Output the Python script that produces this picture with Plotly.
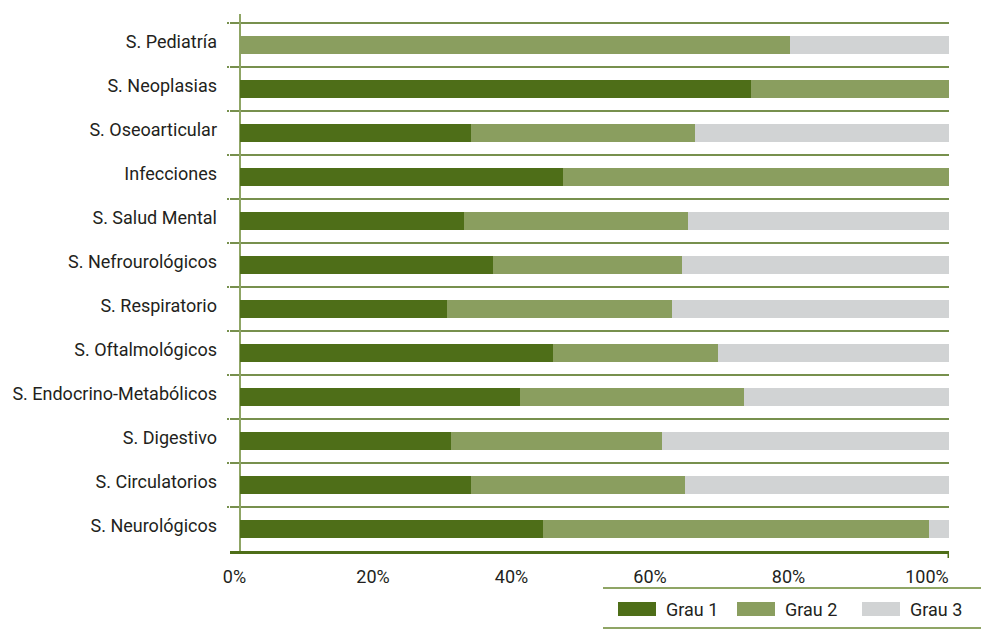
import plotly.graph_objects as go

categories = ["S. Pediatría", "S. Neoplasias", "S. Oseoarticular", "Infecciones",
              "S. Salud Mental", "S. Nefrourológicos", "S. Respiratorio",
              "S. Oftalmológicos", "S. Endocrino-Metabólicos", "S. Digestivo",
              "S. Circulatorios", "S. Neurológicos"]
grau1 = [0.0, 72.1, 32.6, 45.6, 31.6, 35.7, 29.2, 44.1, 39.5, 29.8, 32.6, 42.7]
grau2 = [77.6, 27.9, 31.6, 54.4, 31.6, 26.6, 31.7, 23.3, 31.6, 29.7, 30.2, 54.5]
grau3 = [22.4, 0.0, 35.8, 0.0, 36.8, 37.7, 39.1, 32.6, 28.9, 40.5, 37.2, 2.8]
series_names = ["Grau 1", "Grau 2", "Grau 3"]
colors = ["#4e6e18", "#8a9e5f", "#d1d3d4"]
xticks = [0, 20, 40, 60, 80, 100]
xticklabels = ["0%", "20%", "40%", "60%", "80%", "100%"]

font = "Roboto"
fsize = 18
txt = "#231f20"

W, H = 981, 640
L, R, T, B = 230, 32, 14, 89
pw, ph = W - L - R, H - T - B


def px(x):
    return (x - L) / pw


def py(y):
    return (H - B - y) / ph


fig = go.Figure()
for name, vals, col in zip(series_names, [grau1, grau2, grau3], colors):
    fig.add_trace(go.Bar(y=categories, x=vals, name=name, orientation="h",
                         marker=dict(color=col, line=dict(width=0)),
                         showlegend=False))

fig.update_layout(
    barmode="stack",
    bargap=0.59,
    width=W, height=H,
    margin=dict(l=L, r=R, t=T, b=B),
    plot_bgcolor="white", paper_bgcolor="white",
    font=dict(family=font, size=fsize, color=txt),
    xaxis=dict(range=[-1.41, 100], tickvals=xticks, showticklabels=False,
               showgrid=False, zeroline=True, zerolinecolor="#8fa565", zerolinewidth=2,
               showline=True, linecolor="#4e6e18", linewidth=3, ticks=""),
    xaxis2=dict(overlaying="x", anchor="y", side="bottom", range=[-0.65, 103.18],
                tickvals=xticks, ticktext=xticklabels, showgrid=False, zeroline=False,
                showline=False, ticks="", ticklabelstandoff=13,
                tickfont=dict(size=fsize, color=txt)),
    yaxis=dict(type="category", categoryorder="array", categoryarray=categories,
               range=[11.5, -0.705], tickson="boundaries", showgrid=True,
               gridcolor="#77904d", gridwidth=2, ticks="outside", ticklen=2,
               tickcolor="#77904d", tickwidth=2, showline=False,
               ticklabelstandoff=12, ticklabelshift=3,
               tickfont=dict(size=fsize, color=txt)),
    showlegend=False,
)

# invisible anchor trace for the label axis
fig.add_trace(go.Scatter(x=[0, 100], y=[categories[0], categories[0]], xaxis="x2",
                         mode="markers", marker=dict(opacity=0), hoverinfo="skip",
                         showlegend=False))

# legend rules
for yy in (588, 628):
    fig.add_shape(type="line", xref="paper", yref="paper", x0=px(603), x1=px(981),
                  y0=py(yy), y1=py(yy), line=dict(color="#8fa565", width=2))
# right-end cap of the bottom axis
fig.add_shape(type="line", xref="x", yref="paper", x0=100, x1=100,
              y0=py(551), y1=py(558), line=dict(color="#4e6e18", width=3))

# legend swatches and labels
sw_x = [618, 737, 862]
for name, col, x0 in zip(series_names, colors, sw_x):
    fig.add_shape(type="rect", xref="paper", yref="paper", x0=px(x0), x1=px(x0 + 38),
                  y0=py(616), y1=py(602), fillcolor=col, line=dict(width=0))
    fig.add_annotation(xref="paper", yref="paper", x=px(x0 + 46), y=py(609),
                       text=name, showarrow=False, xanchor="left", yanchor="middle",
                       font=dict(family=font, size=fsize, color=txt))

fig.write_html("out.html")
